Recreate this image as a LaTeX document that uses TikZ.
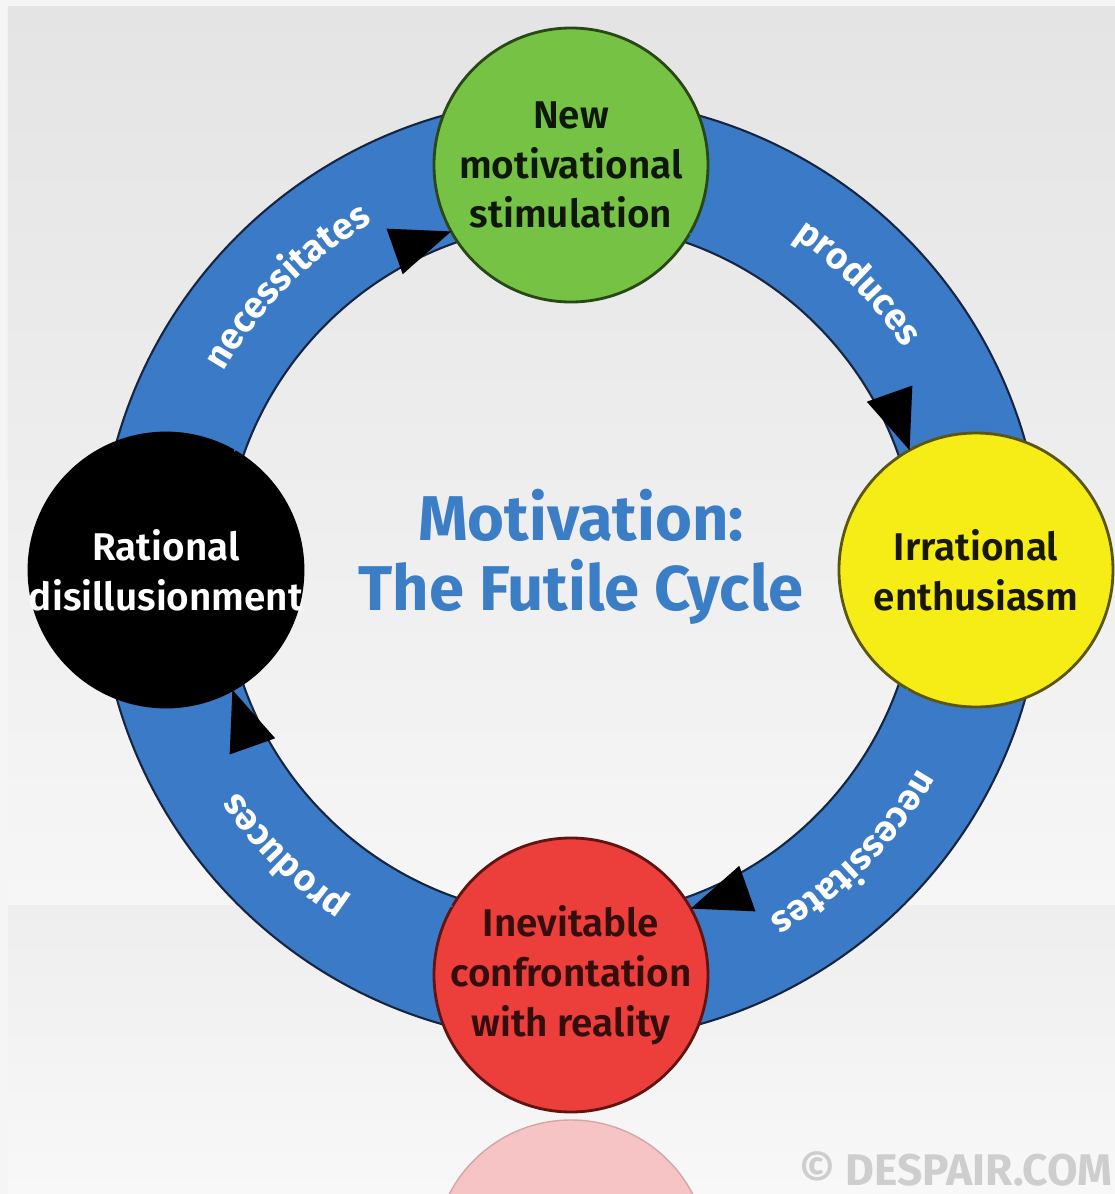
\documentclass[tikz,border=0pt]{standalone}
\usepackage{fontspec}
\setmainfont{Fira Sans}[BoldFont={* SemiBold}]
\newfontfamily\heavyfont{Fira Sans}
\usetikzlibrary{arrows.meta,decorations.text}

\definecolor{ringblue}{RGB}{58,122,198}
\definecolor{ringedge}{RGB}{22,38,66}
\definecolor{newgreen}{RGB}{118,194,68}
\definecolor{newedge}{RGB}{40,72,22}
\definecolor{irryellow}{RGB}{246,236,22}
\definecolor{irredge}{RGB}{92,86,10}
\definecolor{inevred}{RGB}{236,62,58}
\definecolor{inevedge}{RGB}{98,20,18}
\definecolor{titleblue}{RGB}{60,126,198}
\definecolor{bgtop}{RGB}{228,228,228}
\definecolor{bgmid}{RGB}{246,246,246}
\definecolor{floortop}{RGB}{238,238,238}
\definecolor{floorbot}{RGB}{248,248,248}
\definecolor{refpink}{RGB}{246,196,196}
\definecolor{copygray}{RGB}{206,206,206}

\newcommand{\ringfont}{\heavyfont\fontsize{10.5}{12}\selectfont\bfseries\color{white}}

\tikzset{
  stage/.style={circle, minimum size=2.74cm, inner sep=0pt, outer sep=0pt, line width=0.8pt},
  stagetext/.style={align=center, font=\fontsize{11}{14.2}\selectfont\bfseries},
  cycarrow/.style={ringblue, line width=0.4pt, -{Triangle[length=6mm,width=4.8mm,black]}},
  ringword/.style={decorate, decoration={text along path, text align=center, text={|\ringfont|#1}}}
}

\begin{document}
\begin{tikzpicture}
  \useasboundingbox (-5.71,-6.24) rectangle (5.44,5.70);
  % backdrop and floor
  \fill[white!96!black] (-5.71,-6.24) rectangle (5.44,5.70);
  \shade[top color=bgtop, bottom color=bgmid] (-5.63,-3.35) rectangle (5.44,5.64);
  \shade[top color=floortop, bottom color=floorbot] (-5.63,-6.24) rectangle (5.44,-3.35);
  \fill[refpink, draw=refpink!85!black] (0,-6.87) circle[radius=1.37];
  \node[anchor=base west, text=copygray, font=\heavyfont\fontsize{12.6}{12.6}\selectfont\bfseries] (copy) at (2.16,-6.15) {© DESPAIR.COM};

  % ring
  \fill[ringblue, draw=ringedge, line width=0.6pt, even odd rule] (0,0) circle[radius=4.72] (0,0) circle[radius=3.47];
  \path[ringword=necessitates] (170:4.0) arc[start angle=170, end angle=100, radius=4.0];
  \path[ringword=produces] (80:4.0) arc[start angle=80, end angle=10, radius=4.0];
  \path[ringword=necessitates] (-10:4.0) arc[start angle=-10, end angle=-80, radius=4.0];
  \path[ringword=produces] (-100:4.0) arc[start angle=-100, end angle=-170, radius=4.0];

  % stages
  \node[stage, fill=newgreen, draw=newedge] (new) at (0,4.05) {};
  \node[stage, fill=irryellow, draw=irredge] (irr) at (4.05,0) {};
  \node[stage, fill=inevred, draw=inevedge] (inev) at (0,-4.05) {};
  \node[stage, fill=black, draw=black] (dis) at (-4.05,0) {};
  \node[stagetext, text=newgreen!12!black] (newlbl) at (new) {New\\motivational\\stimulation};
  \node[stagetext, text=irryellow!10!black] (irrlbl) at (irr) {Irrational\\enthusiasm};
  \node[stagetext, text=inevred!22!black] (inevlbl) at (inev) {Inevitable\\confrontation\\with reality};
  \node[stagetext, text=white] (dislbl) at (dis) {Rational\\disillusionment};

  \node[align=center, text=titleblue, font=\heavyfont\fontsize{18}{20}\selectfont\bfseries] (title) at (0.1,0.13) {Motivation:\\The Futile Cycle};

  \draw[cycarrow] (dis.60.93) to[out=70.5, in=199.5, looseness=0.9] (new.209.07);
  \draw[cycarrow] (new.330.93) to[out=-19.5, in=109.5, looseness=0.9] (irr.119.07);
  \draw[cycarrow] (irr.240.93) to[out=-109.5, in=19.5, looseness=0.9] (inev.29.07);
  \draw[cycarrow] (inev.150.93) to[out=160.5, in=289.5, looseness=0.9] (dis.299.07);
\end{tikzpicture}
\end{document}
